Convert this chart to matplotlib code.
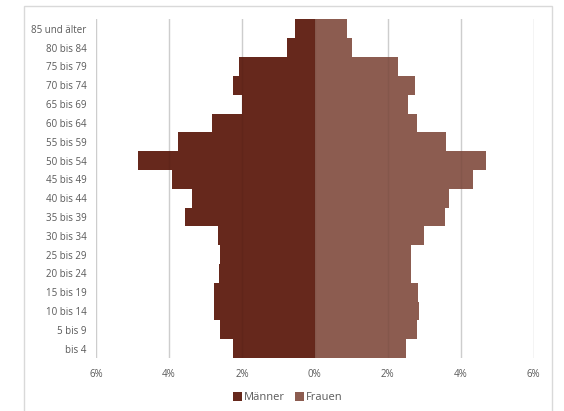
import matplotlib
matplotlib.use("Agg")
import matplotlib.pyplot as plt
from matplotlib.patches import Rectangle
from matplotlib.ticker import FuncFormatter

plt.rcParams['font.family'] = ['Open Sans', 'DejaVu Sans']

age_groups = ['bis 4', '5 bis 9', '10 bis 14', '15 bis 19', '20 bis 24', '25 bis 29',
              '30 bis 34', '35 bis 39', '40 bis 44', '45 bis 49', '50 bis 54', '55 bis 59',
              '60 bis 64', '65 bis 69', '70 bis 74', '75 bis 79', '80 bis 84', '85 und älter']
maenner = [2.25, 2.60, 2.77, 2.77, 2.64, 2.60, 2.66, 3.57, 3.37, 3.92, 4.84, 3.74,
           2.81, 2.00, 2.25, 2.07, 0.77, 0.55]
frauen = [2.49, 2.80, 2.85, 2.82, 2.63, 2.63, 2.98, 3.58, 3.68, 4.34, 4.70, 3.60,
          2.80, 2.55, 2.74, 2.27, 1.01, 0.89]
xticks = [-6, -4, -2, 0, 2, 4, 6]

fig = plt.figure(figsize=(5.64, 4.11), dpi=100)
# chart frame
fig.patches.append(Rectangle((24 / 564, -0.01), 528 / 564, 1 - 6 / 411 + 0.01,
                             transform=fig.transFigure, fill=False,
                             edgecolor='#D9D9D9', linewidth=1.0))

ax = fig.add_axes([0.1702, 0.129, 0.7761, 0.8236])
y = range(len(age_groups))
ax.barh(y, [-v for v in maenner], height=1.0, color='#66281C', label='Männer', zorder=2)
ax.barh(y, frauen, height=1.0, color='#8C5C50', label='Frauen', zorder=2)

for t in xticks:
    ax.axvline(t, color='#D9D9D9', linewidth=1.0, zorder=1)
    ax.axvline(t, color='#000000', alpha=0.05, linewidth=1.0, zorder=3)

ax.set_xlim(-6, 6)
ax.set_ylim(-0.5, len(age_groups) - 0.5)
ax.set_xticks(xticks)
ax.xaxis.set_major_formatter(FuncFormatter(lambda v, p: '%d%%' % abs(round(v))))
ax.set_yticks(list(y))
ax.set_yticklabels(age_groups)
ax.tick_params(axis='both', length=0, labelsize=7, colors='#595959')
ax.tick_params(axis='y', pad=7)
ax.tick_params(axis='x', pad=8)
for s in ax.spines.values():
    s.set_visible(False)

fig.legend(loc='center', bbox_to_anchor=(0.51, 0.032), ncol=2, frameon=False,
           fontsize=8, handlelength=0.8, handleheight=0.8, handletextpad=0.2,
           columnspacing=0.9, labelcolor='#595959')

fig.savefig('out.png', dpi=100)
